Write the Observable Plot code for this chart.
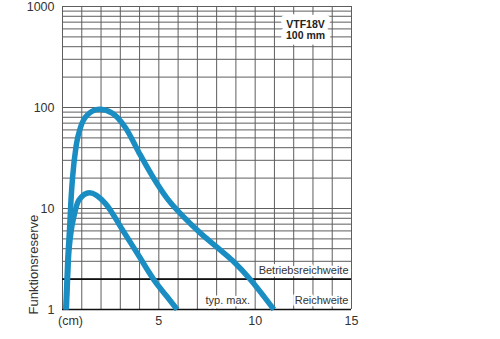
<!DOCTYPE html>
<html><head><meta charset="utf-8">
<script src="https://cdn.jsdelivr.net/npm/d3@7"></script>
<script src="https://cdn.jsdelivr.net/npm/@observablehq/plot@0.6"></script>
<style>
html,body{margin:0;padding:0;background:#fff;}
</style>
</head><body><div id="chart"></div>
<script>
// Tick labels
const xTicks = [0, 5, 10, 15];
const xTickLabels = ["(cm)", "5", "10", "15"];
const yTicks = [1, 10, 100, 1000];
const yTickLabels = ["1", "10", "100", "1000"];
// Grid lines
const xGrid = [0,1,2,3,4,5,6,7,8,9,10,11,12,13,14,15];
const yGrid = [1,2,3,4,5,6,7,8,9,10,20,30,40,50,60,70,80,90,100,200,300,400,500,600,700,800,900,1000];
// Curve: large
const bigX = [0.17, 0.27, 0.38, 0.44, 0.52, 0.71, 0.93, 1.28, 1.9, 2.58, 3.27, 3.96, 4.7, 5.43, 6.3, 7.16, 8.0, 8.85, 9.76, 10.45, 10.97];
const bigY = [1, 3, 7, 12, 20, 42, 63, 84, 96, 88, 63, 36, 20.4, 12.6, 8.2, 5.7, 4.17, 3.02, 1.97, 1.35, 1];
// Curve: small
const smallX = [0.2, 0.3, 0.45, 0.59, 0.85, 1.4, 2.23, 3.1, 3.96, 4.8, 5.4, 5.95];
const smallY = [1, 3, 6, 8.3, 12.1, 14.3, 11.2, 6.2, 3.4, 1.9, 1.36, 1];
// Reference levels
const thickLevels = [1, 2];
// Annotations
const annoText = ["Betriebsreichweite", "Reichweite", "typ. max."];
const annoX = [15, 15, 7.42];
const annoY = [2, 1, 1];
const boxLabel = ["VTF18V", "100 mm"];
const yLabel = "Funktionsreserve";

const big = bigX.map((x, i) => ({x, y: bigY[i]}));
const small = smallX.map((x, i) => ({x, y: smallY[i]}));
const anno = annoText.map((t, i) => ({t, x: annoX[i], y: annoY[i]}));
const box = boxLabel.map((t, i) => ({t, i}));

const blue = "#1a8dc2";
const font = "'Liberation Sans', Arial, sans-serif";

const chart = Plot.plot({
  width: 500,
  height: 339,
  marginLeft: 62,
  marginRight: 149,
  marginTop: 6,
  marginBottom: 30,
  style: {fontFamily: font, fontSize: "12.5px", color: "#333", background: "white"},
  x: {domain: [0, 15]},
  y: {type: "log", domain: [1, 1000]},
  marks: [
    Plot.ruleX(xGrid, {stroke: "#5e5e5e", strokeWidth: 1}),
    Plot.ruleY(yGrid, {stroke: "#5e5e5e", strokeWidth: 1}),
    Plot.ruleY(thickLevels, {stroke: "#111", strokeWidth: 1.7}),
    Plot.text(anno.slice(0, 2), {x: "x", y: "y", text: "t", textAnchor: "end", dx: -3, dy: -9, fontSize: 11, fill: "#333", stroke: "white", strokeWidth: 5, fontFamily: font}),
    Plot.text(anno.slice(2), {x: "x", y: "y", text: "t", textAnchor: "start", dy: -9, fontSize: 11, fill: "#333", stroke: "white", strokeWidth: 5, fontFamily: font}),
    // box label: white halo first, then text
    Plot.text(box.slice(0, 1), {text: "t", frameAnchor: "top-right", dx: -46, dy: 14, textAnchor: "middle", fontSize: 10.5, fontWeight: 600, fill: "white", stroke: "white", strokeWidth: 11, strokeLinejoin: "round"}),
    Plot.text(box.slice(1, 2), {text: "t", frameAnchor: "top-right", dx: -46, dy: 25, textAnchor: "middle", fontSize: 10.5, fontWeight: 600, fill: "white", stroke: "white", strokeWidth: 11, strokeLinejoin: "round"}),
    Plot.text(box.slice(0, 1), {text: "t", frameAnchor: "top-right", dx: -46, dy: 14, textAnchor: "middle", fontSize: 10.5, fontWeight: 600, fill: "#222"}),
    Plot.text(box.slice(1, 2), {text: "t", frameAnchor: "top-right", dx: -46, dy: 25, textAnchor: "middle", fontSize: 10.5, fontWeight: 600, fill: "#222"}),
    Plot.line(big, {x: "x", y: "y", stroke: blue, strokeWidth: 5.5, curve: "monotone-x", strokeLinecap: "butt"}),
    Plot.line(small, {x: "x", y: "y", stroke: blue, strokeWidth: 5.5, curve: "monotone-x", strokeLinecap: "butt"}),
    Plot.axisY({ticks: yTicks, tickFormat: (d) => yTickLabels[yTicks.indexOf(d)], tickSize: 0, tickPadding: 8, label: null, fontSize: 12.5}),
    Plot.axisX({ticks: xTicks.slice(1), tickFormat: (d) => xTickLabels[xTicks.indexOf(d)], tickSize: 0, tickPadding: 7, label: null, fontSize: 12.5}),
    Plot.axisX({ticks: xTicks.slice(0, 1), tickFormat: (d) => xTickLabels[xTicks.indexOf(d)], tickSize: 0, tickPadding: 7, label: null, fontSize: 12.5, dx: 8}),
    Plot.text([yLabel], {frameAnchor: "bottom-left", rotate: -90, textAnchor: "start", dx: -25, dy: 5, fontSize: 13, fill: "#333"})
  ]
});
document.getElementById("chart").appendChild(chart);
</script>
</body></html>
